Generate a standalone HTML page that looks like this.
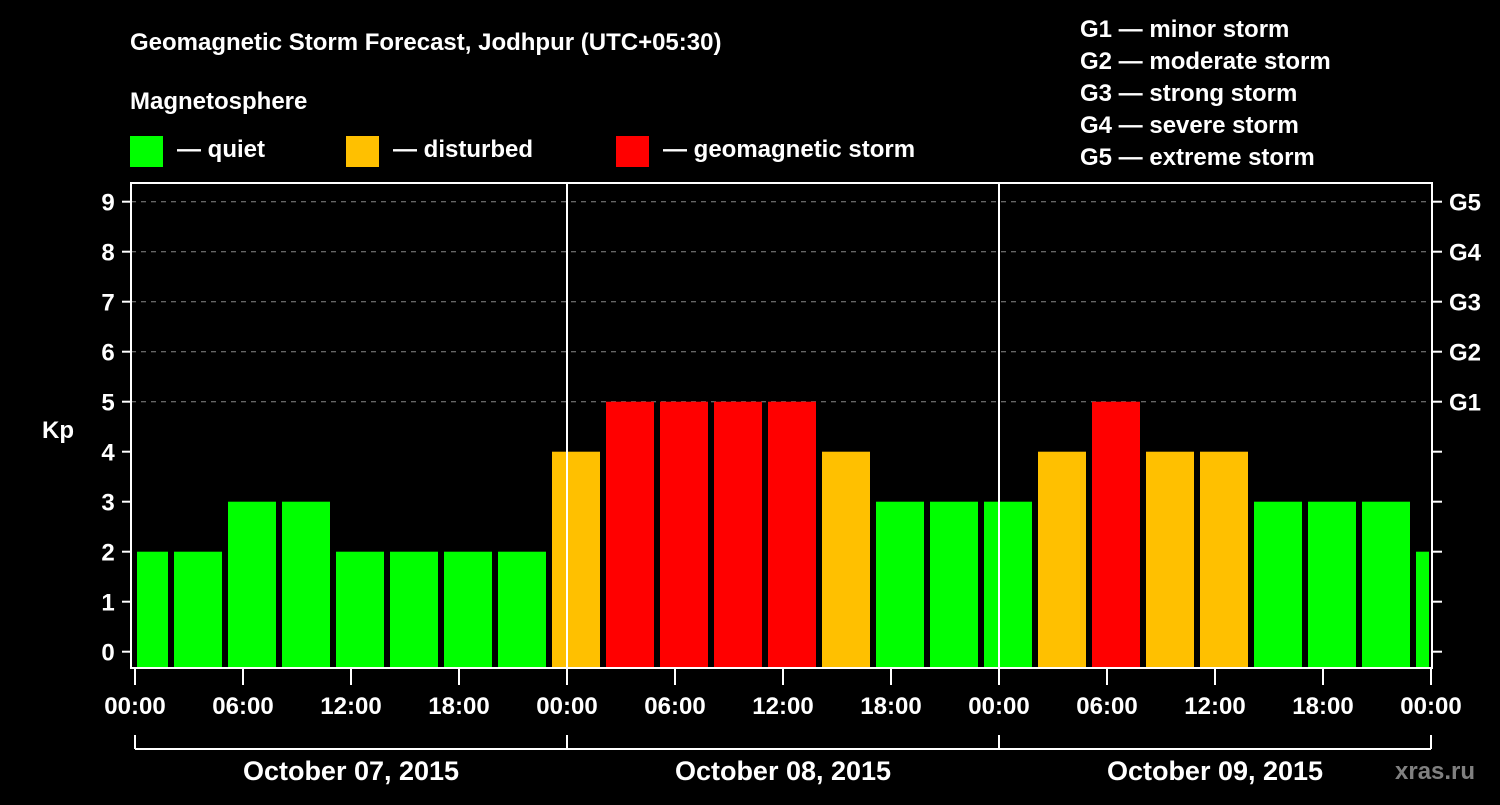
<!DOCTYPE html>
<html><head><meta charset="utf-8"><style>
body{margin:0;background:#000;width:1500px;height:800px;overflow:hidden}
svg text{font-family:"Liberation Sans",sans-serif;font-weight:bold;fill:#fff}
</style></head><body>
<svg id="c" width="1500" height="800" xmlns="http://www.w3.org/2000/svg">
<text x="130" y="50" font-size="24">Geomagnetic Storm Forecast, Jodhpur (UTC+05:30)</text>
<text x="130" y="109" font-size="24">Magnetosphere</text>
<g><rect x="130" y="136" width="33" height="31" fill="#00ff00"/><text x="177" y="157" font-size="24">— quiet</text></g>
<g><rect x="346" y="136" width="33" height="31" fill="#ffc000"/><text x="393" y="157" font-size="24">— disturbed</text></g>
<g><rect x="616" y="136" width="33" height="31" fill="#ff0000"/><text x="663" y="157" font-size="24">— geomagnetic storm</text></g>
<g font-size="24">
<text x="1080" y="37">G1 — minor storm</text>
<text x="1080" y="69">G2 — moderate storm</text>
<text x="1080" y="101">G3 — strong storm</text>
<text x="1080" y="133">G4 — severe storm</text>
<text x="1080" y="165">G5 — extreme storm</text>
</g>
<g id="grid"></g><g id="bars"></g><g id="axes"></g>
<text x="42" y="438" font-size="24">Kp</text>
<text x="1395" y="779" font-size="24" style="fill:#808080">xras.ru</text>
</svg>
<script>
const kpValues=[2,2,3,3,2,2,2,2,4,5,5,5,5,4,3,3,3,4,5,4,4,3,3,3,2];
const barStartHours=[-1,2,5,8,11,14,17,20,23,26,29,32,35,38,41,44,47,50,53,56,59,62,65,68,71];
const yTicks=[0,1,2,3,4,5,6,7,8,9];
const gLabels=["G1","G2","G3","G4","G5"];
const gLevels=[5,6,7,8,9];
const xTickLabels=["00:00","06:00","12:00","18:00","00:00","06:00","12:00","18:00","00:00","06:00","12:00","18:00","00:00"];
const dayLabels=["October 07, 2015","October 08, 2015","October 09, 2015"];
const NS="http://www.w3.org/2000/svg";
const X0=135,PXH=18,Y0=651.7,PXK=50;
const L=131,R=1432,T=183,B=668;
const xs=h=>X0+h*PXH, ys=k=>Y0-k*PXK;
function mk(tag,attrs,parent){const e=document.createElementNS(NS,tag);for(const k in attrs)e.setAttribute(k,attrs[k]);document.getElementById(parent).appendChild(e);return e;}
function color(v){return v>=5?"#ff0000":v>=4?"#ffc000":"#00ff00";}
yTicks.forEach(k=>{if(k>=5){const g=mk("line",{x1:L,x2:R,y1:ys(k),y2:ys(k),stroke:"#888","stroke-dasharray":"5,5","stroke-width":1},"grid");

}});
kpValues.forEach((v,i)=>{let x1=xs(barStartHours[i])+3,x2=xs(barStartHours[i]+3)-3;x1=Math.max(x1,137);x2=Math.min(x2,1429);
const r=mk("rect",{x:x1,y:ys(v),width:x2-x1,height:B-ys(v),fill:color(v)},"bars");

});
const f=mk("rect",{x:L,y:T,width:R-L,height:B-T,fill:"none",stroke:"#fff","stroke-width":2},"axes");


[1,2].forEach(d=>{const l=mk("line",{x1:xs(24*d),x2:xs(24*d),y1:T,y2:B,stroke:"#fff","stroke-width":2},"axes");

});
yTicks.forEach(k=>{mk("line",{x1:122,x2:L,y1:ys(k),y2:ys(k),stroke:"#fff","stroke-width":2},"axes");
mk("line",{x1:R,x2:1442,y1:ys(k),y2:ys(k),stroke:"#fff","stroke-width":2},"axes");
const t=mk("text",{x:108,y:ys(k)+9,"font-size":24,"text-anchor":"middle"},"axes");t.textContent=k;

});
gLabels.forEach((g,i)=>{const t=mk("text",{x:1449,y:ys(gLevels[i])+9,"font-size":24},"axes");t.textContent=g;

});
xTickLabels.forEach((s,i)=>{const x=xs(i*6);mk("line",{x1:x,x2:x,y1:B,y2:685,stroke:"#fff","stroke-width":2},"axes");
const t=mk("text",{x:x,y:714,"font-size":24,"text-anchor":"middle"},"axes");t.textContent=s;

});
mk("line",{x1:xs(0),x2:xs(72),y1:749,y2:749,stroke:"#fff","stroke-width":2},"axes");
[0,1,2,3].forEach(d=>mk("line",{x1:xs(24*d),x2:xs(24*d),y1:735,y2:749,stroke:"#fff","stroke-width":2},"axes"));
dayLabels.forEach((s,i)=>{const t=mk("text",{x:xs(24*i+12),y:780,"font-size":27,"text-anchor":"middle"},"axes");t.textContent=s;

});
</script>
</body></html>
